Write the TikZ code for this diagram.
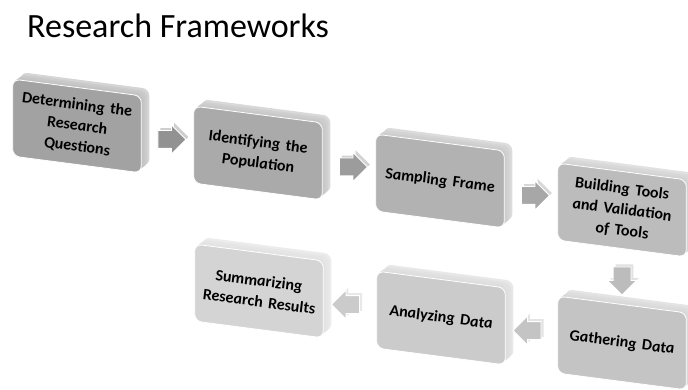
\documentclass[tikz,border=0pt]{standalone}
\usepackage{fontspec}
\setmainfont{Carlito}[BoldItalicFont={Carlito Bold Italic}]
\usetikzlibrary{calc, shapes.arrows, shadows}

\definecolor{boxA}{HTML}{A2A2A2}
\definecolor{boxB}{HTML}{AAAAAA}
\definecolor{boxC}{HTML}{B2B2B2}
\definecolor{boxD}{HTML}{BCBCBC}
\definecolor{boxE}{HTML}{C4C4C4}
\definecolor{boxF}{HTML}{CBCBCB}
\definecolor{boxG}{HTML}{D4D4D4}

\tikzset{
  block3d/.style={rectangle, rounded corners=7pt, minimum width=128pt, minimum height=77pt,
    text width=122pt, align=center, yslant=-0.13, fill=#1, draw=white, line width=0.8pt,
    font=\fontsize{16}{21}\selectfont\bfseries\itshape,
    copy shadow={shadow xshift=8pt, shadow yshift=7pt, fill=#1!45!white, draw=none},
    copy shadow={shadow xshift=6pt, shadow yshift=5pt, fill=#1!55!white, draw=none},
    copy shadow={shadow xshift=4pt, shadow yshift=3.5pt, fill=#1!60!white, draw=none},
    copy shadow={shadow xshift=2pt, shadow yshift=2pt, fill=#1!65!white, draw=none}},
  flowarrow/.style={single arrow, single arrow head extend=5.5pt, minimum height=28pt,
    minimum width=28pt, inner sep=8.5pt, fill=#1, draw=white, line width=0.8pt,
    copy shadow={shadow xshift=2.5pt, shadow yshift=2.5pt, fill=#1!45!white, draw=none}}
}

\begin{document}
\begin{tikzpicture}[x=1pt, y=-1pt]
  \useasboundingbox (0,0) rectangle (688,390);

  % Title
  \node[anchor=base west, inner sep=0pt, font=\fontsize{34}{40}\selectfont] (title) at (27,38) {Research Frameworks};

  % Steps, top row
  \node[block3d=boxA] (b1) at (77,126) {Determining the\\Research\\Questions};
  \node[block3d=boxB] (b2) at (258,153) {Identifying the\\Population};
  \node[block3d=boxC] (b3) at (440,181) {Sampling Frame};
  \node[block3d=boxD] (b4) at (622,210) {Building Tools\\and Validation\\of Tools};

  % Steps, bottom row
  \node[block3d=boxE] (b5) at (622,343) {Gathering Data};
  \node[block3d=boxF] (b6) at (441,318) {Analyzing Data};
  \node[block3d=boxG] (b7) at (259,291) {Summarizing\\Research Results};

  % Arrows between steps
  \foreach \from/\to/\dir/\col in {b1/b2/0/boxA!90!black, b2/b3/0/boxB!92!black, b3/b4/0/boxC!94!black,
      b4/b5/270/boxD, b5/b6/180/boxE, b6/b7/180/boxF} {
    \node[flowarrow=\col, shape border rotate=\dir] (a-\from) at ($(\from)!0.5!(\to)$) {};
  }
\end{tikzpicture}
\end{document}
